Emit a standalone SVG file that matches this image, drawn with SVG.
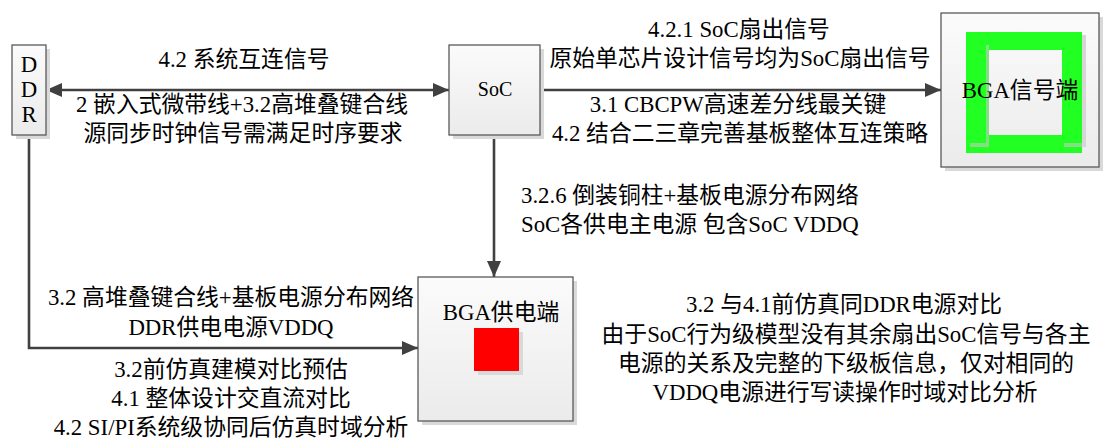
<svg xmlns="http://www.w3.org/2000/svg" width="1104" height="439" viewBox="0 0 1104 439">
<defs>
<linearGradient id="boxg" x1="0" y1="0" x2="0" y2="1">
<stop offset="0" stop-color="#fbfbfb"/>
<stop offset="1" stop-color="#ebebeb"/>
</linearGradient>
<marker id="ah" markerWidth="16" markerHeight="14" refX="16" refY="7" orient="auto-start-reverse" markerUnits="userSpaceOnUse">
<path d="M0,0 L16,7 L0,14 z" fill="#404040"/>
</marker>
<style>
.box{fill:url(#boxg);stroke:#595959;stroke-width:1.3}
.shadow{fill:#d9d9d9}
.t{font-family:"Liberation Serif","Noto Sans CJK SC",serif;font-size:22.8px;fill:#000}
.c{text-anchor:middle}
.conn{fill:none;stroke:#404040;stroke-width:2.6}
</style>
</defs>
<rect width="1104" height="439" fill="#ffffff"/>

<g id="connectors">
<line class="conn" x1="46" y1="90" x2="449" y2="90" marker-start="url(#ah)" marker-end="url(#ah)"/>
<line class="conn" x1="540" y1="90" x2="941" y2="90" marker-end="url(#ah)"/>
<line class="conn" x1="494" y1="135" x2="494" y2="277" marker-end="url(#ah)"/>
<polyline class="conn" points="29,135 29,348 418,348" marker-end="url(#ah)"/>
</g>

<g id="node-ddr">
<rect class="shadow" x="16" y="49" width="34" height="90"/>
<rect class="box" x="12" y="45" width="34" height="90"/>
<text class="t c" x="29" y="72">D</text>
<text class="t c" x="29" y="97">D</text>
<text class="t c" x="29" y="122">R</text>
</g>

<g id="node-soc">
<rect class="shadow" x="453" y="49" width="91" height="90"/>
<rect class="box" x="449" y="45" width="91" height="90"/>
<text class="t c" x="495" y="96" style="font-size:20px">SoC</text>
</g>

<g id="node-bga-signal">
<rect class="shadow" x="945" y="17" width="158" height="154"/>
<rect class="box" x="941" y="13" width="158" height="154"/>
<rect x="1082" y="35" width="4" height="112" fill="#d6d6d6"/>
<path d="M966,32 h116 v121 h-116 z M989,50 v85 h73 v-85 z" fill="#22ff22" fill-rule="evenodd"/>
<path d="M986,45 h3 v98 h-3 z M970,143 h19 v4 h-19 z M1064,143 h18 v4 h-18 z" fill="#c8c8c8" opacity="0.6"/>
<text class="t c" x="1020" y="98">BGA信号端</text>
</g>

<g id="node-bga-power">
<rect class="shadow" x="422" y="281" width="155" height="144"/>
<rect class="box" x="418" y="277" width="155" height="144"/>
<rect class="shadow" x="478" y="332" width="45" height="43"/>
<rect x="474" y="328" width="45" height="43" fill="#ff0000"/>
<text class="t c" x="501" y="320">BGA供电端</text>
</g>

<g id="labels">
<text class="t c" x="244" y="67">4.2 系统互连信号</text>
<text class="t c" x="242" y="112">2 嵌入式微带线+3.2高堆叠键合线</text>
<text class="t c" x="243" y="141">源同步时钟信号需满足时序要求</text>

<text class="t c" x="739" y="37">4.2.1 SoC扇出信号</text>
<text class="t c" x="740" y="66">原始单芯片设计信号均为SoC扇出信号</text>
<text class="t c" x="738" y="112">3.1 CBCPW高速差分线最关键</text>
<text class="t c" x="740" y="141">4.2 结合二三章完善基板整体互连策略</text>

<text class="t" x="521" y="203">3.2.6 倒装铜柱+基板电源分布网络</text>
<text class="t" x="521" y="232">SoC各供电主电源 包含SoC VDDQ</text>

<text class="t c" x="231" y="305">3.2 高堆叠键合线+基板电源分布网络</text>
<text class="t c" x="231" y="335">DDR供电电源VDDQ</text>
<text class="t c" x="231" y="377">3.2前仿真建模对比预估</text>
<text class="t c" x="231" y="406">4.1 整体设计交直流对比</text>
<text class="t c" x="231" y="435">4.2 SI/PI系统级协同后仿真时域分析</text>

<text class="t c" x="844" y="312">3.2 与4.1前仿真同DDR电源对比</text>
<text class="t c" x="846" y="342">由于SoC行为级模型没有其余扇出SoC信号与各主</text>
<text class="t c" x="846" y="371">电源的关系及完整的下级板信息，仅对相同的</text>
<text class="t c" x="845" y="400">VDDQ电源进行写读操作时域对比分析</text>
</g>
</svg>
